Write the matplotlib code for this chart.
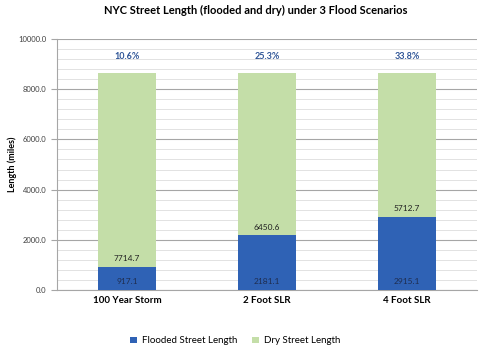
import matplotlib.pyplot as plt
from matplotlib.ticker import MultipleLocator

plt.rcParams['font.family'] = ['Lato', 'DejaVu Sans']

scenarios = ['100 Year Storm', '2 Foot SLR', '4 Foot SLR']
flooded = [917.1, 2181.1, 2915.1]
dry = [7714.7, 6450.6, 5712.7]
pct_labels = ['10.6%', '25.3%', '33.8%']

blue = '#2F62B5'
green = '#C4DEA8'

fig = plt.figure(figsize=(4.83, 3.5), dpi=100)
ax = fig.add_axes([0.118, 0.171, 0.870, 0.718])

x = range(len(scenarios))
ax.bar(x, flooded, width=0.41, color=blue, label='Flooded Street Length', zorder=3)
ax.bar(x, dry, width=0.41, bottom=flooded, color=green, label='Dry Street Length', zorder=3)

for i in x:
    ax.text(i, 360, f'{flooded[i]:.1f}', ha='center', va='center', fontsize=6, color='#1F2D4F', zorder=4)
    ax.text(i, flooded[i] + 330, f'{dry[i]:.1f}', ha='center', va='center', fontsize=6, color='#222222', zorder=4)
    ax.text(i, 9280, pct_labels[i], ha='center', va='center', fontsize=6.5, color='#2F5597',
            fontweight='bold', zorder=4)

ax.set_xlim(-0.5, 2.5)
ax.set_ylim(0, 10000)
ax.yaxis.set_major_locator(MultipleLocator(2000))
ax.yaxis.set_minor_locator(MultipleLocator(400))
ax.yaxis.set_major_formatter(lambda v, p: f'{v:.1f}')
ax.grid(axis='y', which='major', color='#A6A6A6', linewidth=0.8, zorder=0)
ax.grid(axis='y', which='minor', color='#DDDDDD', linewidth=0.6, zorder=0)
ax.set_xticks(list(x))
ax.set_xticklabels(scenarios, fontsize=7, fontweight='bold')
ax.tick_params(axis='x', length=0, pad=4)
ax.tick_params(axis='y', which='major', labelsize=5.5, length=4, color='#A6A6A6', labelcolor='#404040')
ax.tick_params(axis='y', which='minor', length=0)
for s in ['top', 'right']:
    ax.spines[s].set_visible(False)
ax.spines['left'].set_color('#A6A6A6')
ax.spines['bottom'].set_color('#A6A6A6')

ax.set_ylabel('Length (miles)', fontsize=6.5, fontweight='bold')
ax.yaxis.set_label_coords(-0.095, 0.5)
fig.suptitle('NYC Street Length (flooded and dry) under 3 Flood Scenarios', x=0.53, y=0.985,
             fontsize=8, fontweight='bold')

fig.legend(loc='lower center', bbox_to_anchor=(0.487, -0.012), ncol=2, frameon=False, fontsize=7,
           handlelength=0.7, handleheight=0.7, handletextpad=0.5, columnspacing=1.6)

fig.savefig('out.png', dpi=100)
